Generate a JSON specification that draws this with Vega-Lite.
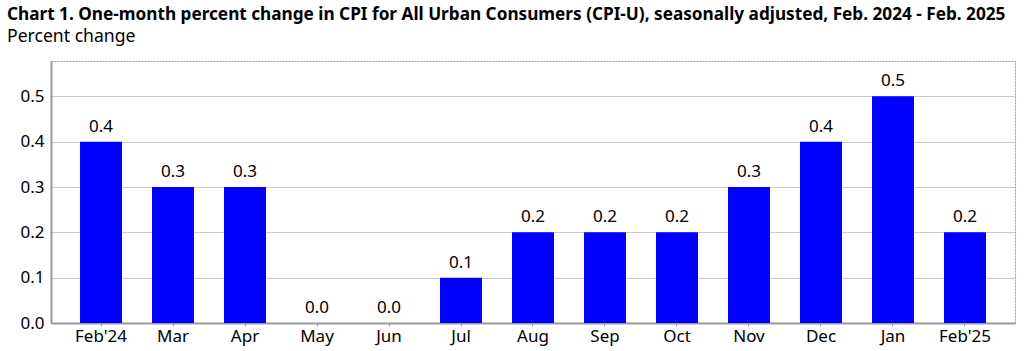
{
  "$schema": "https://vega.github.io/schema/vega-lite/v6.json",
  "width": 964,
  "height": 262,
  "autosize": {"type": "none"},
  "padding": {"left": 51, "top": 61, "right": 10, "bottom": 28},
  "background": "white",
  "title": {
    "text": "Chart 1. One-month percent change in CPI for All Urban Consumers (CPI-U), seasonally adjusted, Feb. 2024 - Feb. 2025",
    "subtitle": "Percent change",
    "anchor": "start",
    "frame": "group",
    "dx": -44,
    "offset": 15,
    "font": "Noto Sans",
    "fontSize": 17.2,
    "fontWeight": "bold",
    "color": "#000",
    "subtitleFont": "Noto Sans",
    "subtitleFontSize": 17.6,
    "subtitleColor": "#000",
    "subtitlePadding": 5
  },
  "config": {
    "view": {"stroke": "#999", "strokeWidth": 1, "strokeDash": [2, 1]},
    "font": "Noto Sans"
  },
  "data": {
    "values": [
      {"month": "Feb'24", "value": 0.4},
      {"month": "Mar", "value": 0.3},
      {"month": "Apr", "value": 0.3},
      {"month": "May", "value": 0.0},
      {"month": "Jun", "value": 0.0},
      {"month": "Jul", "value": 0.1},
      {"month": "Aug", "value": 0.2},
      {"month": "Sep", "value": 0.2},
      {"month": "Oct", "value": 0.2},
      {"month": "Nov", "value": 0.3},
      {"month": "Dec", "value": 0.4},
      {"month": "Jan", "value": 0.5},
      {"month": "Feb'25", "value": 0.2}
    ]
  },
  "encoding": {
    "x": {
      "field": "month",
      "type": "nominal",
      "sort": null,
      "scale": {"paddingInner": 0.417, "paddingOuter": 0.403},
      "axis": {
        "title": null,
        "labelAngle": 0,
        "labelFont": "Noto Sans",
        "labelFontSize": 17,
        "labelColor": "#000",
        "labelPadding": 2,
        "domain": true,
        "domainColor": "#999",
        "domainWidth": 2,
        "ticks": true,
        "tickColor": "#999",
        "tickSize": 3,
        "grid": false
      }
    },
    "y": {
      "field": "value",
      "type": "quantitative",
      "scale": {"domain": [0, 0.578], "nice": false},
      "axis": {
        "title": null,
        "values": [0, 0.1, 0.2, 0.3, 0.4, 0.5],
        "format": ".1f",
        "labelFont": "Noto Sans",
        "labelFontSize": 17,
        "labelColor": "#000",
        "labelPadding": 7,
        "domain": true,
        "domainColor": "#999",
        "domainWidth": 2,
        "ticks": false,
        "grid": true,
        "gridColor": "#9a8fb5",
        "gridDash": [1, 1],
        "gridWidth": 1
      }
    }
  },
  "layer": [
    {"mark": {"type": "bar", "color": "#0000ff"}},
    {
      "mark": {"type": "text", "baseline": "bottom", "dy": -6, "fontSize": 17, "font": "Noto Sans", "color": "#000"},
      "encoding": {"text": {"field": "value", "type": "quantitative", "format": ".1f"}}
    }
  ]
}
